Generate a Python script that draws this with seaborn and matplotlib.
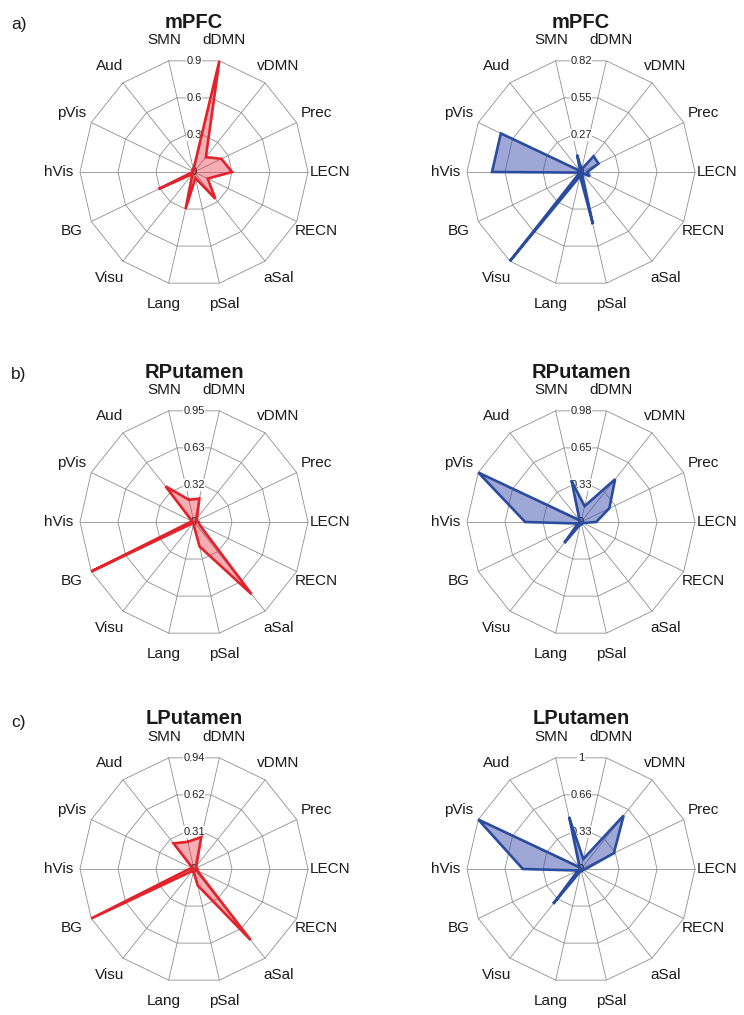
import numpy as np
import pandas as pd
import matplotlib
matplotlib.use("Agg")
import matplotlib.pyplot as plt
import seaborn as sns

# ---------------- data ----------------
categories = ["SMN", "dDMN", "vDMN", "Prec", "LECN", "RECN", "aSal",
              "pSal", "Lang", "Visu", "BG", "hVis", "pVis", "Aud"]

titles = ["mPFC", "mPFC", "RPutamen", "RPutamen", "LPutamen", "LPutamen"]
panel_letters = ["a)", "b)", "c)"]

mpfc_left = [0.02, 0.90, 0.15, 0.24, 0.30, 0.12, 0.27, 0.05, 0.30, 0.02, 0.31, 0.01, 0.01, 0.01]
mpfc_right = [0.12, 0.02, 0.145, 0.14, 0.045, 0.07, 0.01, 0.385, 0.03, 0.82, 0.01, 0.64, 0.64, 0.01]
rput_left = [0.19, 0.20, 0.04, 0.02, 0.04, 0.05, 0.77, 0.21, 0.02, 0.01, 0.95, 0.03, 0.02, 0.38]
rput_right = [0.36, 0.14, 0.47, 0.27, 0.13, 0.02, 0.01, 0.02, 0.02, 0.23, 0.03, 0.48, 0.98, 0.02]
lput_left = [0.23, 0.27, 0.03, 0.02, 0.03, 0.03, 0.75, 0.14, 0.02, 0.02, 0.94, 0.04, 0.01, 0.27]
lput_right = [0.46, 0.09, 0.60, 0.32, 0.04, 0.02, 0.01, 0.02, 0.02, 0.39, 0.03, 0.51, 1.00, 0.02]

series = [mpfc_left, mpfc_right, rput_left, rput_right, lput_left, lput_right]
scale_max = [0.9, 0.82, 0.95, 0.98, 0.94, 1.0]
tick_labels = [["0.3", "0.6", "0.9"], ["0.27", "0.55", "0.82"],
               ["0.32", "0.63", "0.95"], ["0.33", "0.65", "0.98"],
               ["0.31", "0.62", "0.94"], ["0.33", "0.66", "1"]]

# ---------------- style ----------------
sns.set_style("white")
plt.rcParams["font.family"] = ["Liberation Sans", "DejaVu Sans"]

W, H = 744, 1015
fig = plt.figure(figsize=(W / 100, H / 100), dpi=100)
fig.patch.set_facecolor("white")

col_x = [194, 581]
row_y = [172, 522, 869]
R = 114.0
pad = 1.03

line_colors = ["#e3232b", "#2a4c9e"]
fill_colors = ["#e8283a", "#4050b0"]
fill_alpha = [0.38, 0.5]
grid_color = "#8f8f8f"

n = len(categories)
theta = np.arange(n) * 2 * np.pi / n
closed_theta = np.append(theta, theta[0])

for i, vals in enumerate(series):
    row, col = divmod(i, 2)
    cx, cy = col_x[col], row_y[row]
    m = scale_max[i]
    rp = R * pad
    ax = fig.add_axes([(cx - rp) / W, 1 - (cy + rp) / H, 2 * rp / W, 2 * rp / H],
                      projection="polar")
    ax.set_theta_offset(np.pi / 2 + np.pi / n)
    ax.set_theta_direction(-1)
    ax.set_facecolor("none")
    ax.grid(False)
    ax.spines["polar"].set_visible(False)

    # polygon grid
    for k in range(1, 4):
        ax.plot(closed_theta, [m * k / 3] * (n + 1), color=grid_color, lw=0.6, zorder=1)
    for t in theta:
        ax.plot([t, t], [0, m], color=grid_color, lw=0.6, zorder=1)

    # data
    v = np.append(np.array(vals), vals[0])
    df = pd.DataFrame({"theta": closed_theta, "value": v})
    c = i % 2
    ax.fill(closed_theta, v, color=fill_colors[c], alpha=fill_alpha[c], lw=0, zorder=2)
    sns.lineplot(data=df, x="theta", y="value", sort=False, estimator=None,
                 color=line_colors[c], lw=1.9, ax=ax, zorder=4,
                 solid_joinstyle="miter")

    ax.set_xlabel("")
    ax.set_ylabel("")
    ax.set_xticks([])
    ax.set_yticks([])
    ax.set_ylim(0, m * pad)

    # value labels
    for k, lab in enumerate(tick_labels[i]):
        ax.text(np.pi / n, m * (k + 1) / 3 * np.cos(np.pi / n), lab,
                ha="center", va="center", fontsize=8, color="#222222", zorder=3,
                bbox=dict(fc="white", ec="none", pad=0.4))
    ax.text(0, 0, "0", ha="center", va="center", fontsize=8, color="#222222", zorder=3)

    # category labels
    for t, cat in zip(theta, categories):
        ax.text(t, m * 1.19, cat, ha="center", va="center", fontsize=11,
                color="#1a1a1a", clip_on=False)

    fig.text(cx / W, 1 - (cy - 150) / H, titles[i], ha="center", va="center",
             fontsize=14.5, fontweight="bold", color="#1a1a1a")

for r, lab in enumerate(panel_letters):
    fig.text(11 / W, 1 - (row_y[r] - 147) / H, lab, ha="left", va="center",
             fontsize=12.5, color="#1a1a1a")

fig.savefig("out.png", dpi=100, facecolor="white")
